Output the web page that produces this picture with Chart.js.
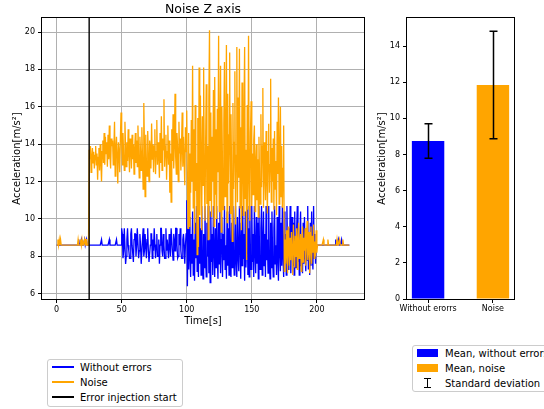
<!DOCTYPE html>
<html lang="en">
<head>
<meta charset="UTF-8">
<title>Noise Z axis</title>
<script src="https://cdn.jsdelivr.net/npm/chart.js"></script>
<style>
  body { margin: 0; background: #fff; font-family: 'DejaVu Sans', sans-serif; }
  #wrap { position: relative; width: 544px; height: 409px; overflow: hidden; }
  #wrap canvas { position: absolute; top: 0; }
  #lineChart { left: 0; }
  #barChart { left: 370px; }
  .legend { position: absolute; border: 1px solid #cccccc; border-radius: 3px; background: rgba(255,255,255,0.8); font-size: 10px; color: #000; white-space: nowrap; }
  .legend .key, .legend .txt { position: absolute; }
  .legend .txt { line-height: 15px; height: 15px; }
</style>
</head>
<body>
<div id="wrap">
  <canvas id="lineChart" width="370" height="330"></canvas>
  <canvas id="barChart" width="174" height="330"></canvas>
  <div class="legend" id="lineLegend" style="left:47px; top:359px; width:134px; height:46px;"></div>
  <div class="legend" id="barLegend" style="left:412px; top:345px; width:160px; height:45px;"></div>
</div>

<script>
// sample spacing of the recordings (s)
const sampleStep = 0.5;
const injectionStart = 25;
const timeTicks = [0, 50, 100, 150, 200];
const accelTicks = [6, 8, 10, 12, 14, 16, 18, 20];
const meanTicks = [0, 2, 4, 6, 8, 10, 12, 14];

// acceleration without errors, one value every 0.5 s from t = 0
const withoutErrors = [
  8.6, 8.6, 8.6, 8.6, 8.6, 8.6, 8.6, 8.6, 8.6, 8.6,
  8.6, 8.6, 8.6, 8.6, 8.6, 8.6, 8.6, 8.6, 8.6, 8.6,
  8.6, 8.6, 8.6, 8.6, 8.6, 8.6, 8.6, 8.6, 8.6, 8.6,
  8.6, 8.6, 8.6, 8.6, 8.9, 8.6, 8.6, 8.6, 8.9, 8.6,
  8.6, 8.6, 8.6, 8.9, 8.6, 8.6, 8.9, 8.6, 8.6, 8.6,
  8.6, 8.6, 8.6, 8.6, 8.6, 8.6, 8.6, 8.6, 8.6, 8.6,
  8.6, 8.6, 8.6, 8.6, 8.6, 8.6, 8.6, 8.6, 8.6, 8.9,
  8.6, 8.6, 8.6, 8.6, 8.6, 8.6, 8.6, 8.6, 8.6, 8.6,
  8.6, 8.9, 8.6, 8.6, 8.6, 8.6, 8.6, 8.6, 8.6, 8.6,
  8.6, 8.6, 8.9, 8.6, 8.6, 8.6, 8.6, 8.6, 8.6, 8.6,
  9.5, 9.2, 7.9, 8.3, 9.5, 9.5, 7.6, 8.0, 8.9, 9.5,
  8.6, 8.3, 7.9, 7.9, 9.2, 9.5, 8.6, 8.6, 7.7, 8.9,
  9.2, 9.2, 8.0, 8.6, 9.5, 9.5, 7.9, 8.3, 9.2, 8.6,
  7.6, 7.6, 8.9, 9.5, 8.0, 8.3, 9.2, 9.2, 7.9, 8.9,
  9.5, 8.3, 7.7, 7.7, 8.6, 9.2, 9.2, 7.9, 8.9, 8.3,
  9.5, 9.5, 7.9, 8.6, 9.2, 8.0, 8.0, 8.9, 7.6, 8.6,
  9.5, 9.5, 8.3, 8.0, 9.2, 8.6, 7.9, 7.9, 9.5, 8.3,
  8.9, 8.9, 7.9, 9.2, 8.6, 8.0, 9.5, 9.5, 8.3, 7.8,
  9.2, 8.9, 8.3, 9.5, 9.5, 8.6, 7.9, 8.0, 9.2, 8.6,
  9.5, 8.3, 7.9, 7.9, 8.9, 9.2, 8.6, 7.6, 8.6, 9.2,
  11.0, 6.4, 9.5, 7.3, 10.1, 8.0, 6.9, 9.2, 7.6, 10.4,
  7.0, 8.9, 6.7, 9.8, 7.9, 10.7, 7.2, 8.6, 6.9, 10.1,
  7.6, 9.5, 7.0, 10.7, 8.3, 6.8, 9.2, 7.4, 10.7, 7.9,
  6.9, 9.8, 8.0, 10.7, 7.1, 8.9, 6.6, 10.4, 7.7, 9.2,
  7.0, 10.7, 8.3, 6.9, 9.5, 7.4, 10.7, 8.0, 6.8, 9.8,
  7.6, 10.7, 7.1, 8.9, 10.1, 6.9, 9.2, 7.8, 10.7, 7.3,
  8.6, 6.8, 10.4, 7.5, 9.5, 7.0, 10.7, 8.0, 6.9, 9.8,
  7.4, 10.7, 8.3, 7.0, 9.2, 10.7, 7.6, 6.9, 10.1, 8.0,
  7.2, 10.7, 8.6, 6.8, 9.8, 7.5, 10.7, 7.9, 9.2, 6.7,
  10.4, 7.4, 8.9, 10.7, 7.0, 9.5, 6.9, 10.7, 8.0, 7.3,
  10.7, 7.7, 9.2, 6.9, 10.7, 8.3, 7.1, 10.1, 7.6, 9.8,
  6.8, 10.7, 8.0, 7.3, 9.5, 10.7, 7.0, 8.6, 10.4, 7.5,
  9.2, 6.9, 10.7, 7.8, 8.9, 7.1, 10.7, 8.3, 6.8, 9.8,
  7.4, 10.4, 8.0, 6.9, 9.5, 10.7, 7.6, 8.6, 7.0, 10.1,
  7.9, 6.7, 10.7, 8.3, 7.2, 9.8, 7.5, 10.7, 8.0, 6.9,
  10.4, 7.6, 9.2, 7.0, 10.7, 8.3, 7.3, 9.5, 7.8, 10.7,
  7.1, 8.9, 10.1, 7.5, 9.8, 7.0, 10.4, 8.0, 7.4, 9.5,
  10.7, 7.7, 8.6, 7.0, 9.2, 10.4, 7.5, 8.3, 7.1, 9.8,
  7.6, 10.1, 8.0, 7.2, 9.5, 7.8, 10.7, 7.3, 8.9, 7.0,
  9.8, 7.5, 10.4, 8.0, 7.3, 10.7, 7.9, 9.2, 7.6, 8.6,
  8.6, 8.6, 8.6, 8.6, 8.6, 8.6, 8.6, 8.6, 8.6, 8.6,
  8.6, 8.6, 8.6, 8.6, 8.6, 8.6, 8.6, 8.6, 8.6, 8.6,
  8.6, 8.6, 8.6, 8.6, 8.6, 8.6, 8.6, 8.6, 8.6, 8.9,
  8.6, 8.6, 8.6, 8.9, 8.6, 8.6, 8.6, 8.6, 8.9, 8.6,
  8.6, 8.6, 8.6, 8.6, 8.6, 8.6, 8.6, 8.6, 8.6, 8.6,
  8.6
];

// acceleration with noise injected from t = 25 s
const noise = [
  8.6, 8.6, 8.9, 8.6, 8.9, 8.6, 8.9, 8.6, 8.6, 8.6,
  8.6, 8.6, 8.6, 8.6, 8.6, 8.6, 8.6, 8.6, 8.6, 8.6,
  8.6, 8.6, 8.6, 8.6, 8.6, 8.6, 8.6, 8.6, 8.6, 8.6,
  8.6, 8.6, 8.6, 8.9, 8.6, 8.6, 8.6, 8.9, 8.6, 8.9,
  8.6, 8.6, 8.6, 8.9, 8.6, 8.9, 8.9, 8.6, 8.6, 8.6,
  13.7, 13.2, 13.9, 12.5, 13.3, 13.8, 13.0, 13.6, 12.7, 13.4,
  13.9, 12.9, 13.5, 12.1, 13.3, 13.8, 12.6, 14.0, 13.1, 12.0,
  13.6, 14.2, 13.0, 14.6, 12.9, 14.4, 13.5, 14.1, 12.8, 14.5,
  13.2, 15.0, 13.4, 12.7, 14.3, 13.9, 14.2, 12.9, 13.8, 15.2,
  12.3, 13.7, 14.4, 13.3, 11.9, 14.1, 13.6, 12.5, 14.3, 15.7,
  14.2, 12.9, 14.6, 13.4, 12.6, 15.2, 13.8, 12.8, 14.1, 13.1,
  14.8, 13.5, 12.5, 14.3, 13.9, 12.7, 14.5, 13.2, 14.0, 12.4,
  13.7, 14.6, 13.0, 14.2, 12.8, 15.0, 13.4, 12.2, 14.4, 13.6,
  12.6, 14.9, 13.3, 11.6, 16.2, 13.9, 11.2, 14.5, 13.1, 12.3,
  14.7, 13.5, 12.0, 14.2, 13.8, 12.7, 15.1, 13.2, 14.0, 12.5,
  13.9, 14.8, 12.4, 13.6, 15.3, 12.9, 14.1, 13.4, 12.2, 14.6,
  13.0, 15.5, 12.6, 14.3, 13.7, 16.4, 12.8, 13.9, 14.5, 12.1,
  13.6, 15.0, 12.9, 14.2, 11.4, 13.5, 10.9, 14.8, 13.1, 15.6,
  12.7, 14.0, 16.7, 13.3, 12.4, 14.6, 13.8, 12.0, 15.2, 13.5,
  14.3, 12.6, 13.9, 15.7, 12.8, 14.4, 13.2, 11.8, 14.9, 13.6,
  15.8, 12.2, 9.5, 14.6, 9.6, 13.5, 11.4, 15.3, 12.0, 18.2,
  10.6, 14.8, 9.2, 16.1, 11.5, 13.0, 8.1, 15.4, 8.5, 18.1,
  10.2, 16.6, 13.3, 9.4, 15.5, 11.8, 18.1, 12.6, 9.9, 14.0,
  17.2, 10.8, 13.9, 8.9, 16.4, 20.1, 11.0, 15.7, 10.1, 14.4,
  12.0, 16.9, 9.6, 17.6, 11.3, 14.8, 10.0, 15.9, 12.5, 19.8,
  10.4, 14.2, 18.2, 9.3, 16.0, 12.7, 10.5, 15.1, 18.4, 11.2,
  13.8, 19.3, 9.8, 16.7, 11.9, 14.5, 18.9, 10.3, 15.6, 12.4,
  8.8, 16.2, 11.6, 14.1, 17.9, 9.7, 13.4, 19.2, 10.9, 16.5,
  12.2, 19.1, 10.6, 14.9, 9.4, 17.3, 12.8, 10.2, 15.8, 19.2,
  11.1, 13.7, 7.8, 16.1, 10.5, 19.8, 12.3, 9.9, 14.6, 16.3,
  10.7, 13.5, 11.3, 14.2, 15.0, 10.4, 12.9, 14.0, 11.0, 13.2,
  10.1, 14.4, 12.1, 10.8, 15.6, 11.7, 13.9, 17.0, 10.6, 14.1,
  12.6, 11.0, 14.7, 12.2, 10.3, 13.6, 15.1, 11.4, 12.9, 17.5,
  10.9, 13.8, 12.0, 14.3, 10.5, 14.7, 11.6, 13.1, 10.2, 15.2,
  12.4, 16.5, 10.8, 13.3, 16.0, 11.2, 13.9, 10.6, 12.7, 15.0,
  7.2, 8.9, 7.6, 9.4, 8.1, 7.1, 9.6, 8.4, 7.5, 9.0,
  7.8, 9.3, 8.2, 7.0, 9.7, 8.6, 7.4, 9.1, 8.0, 9.5,
  7.3, 8.7, 9.8, 7.9, 8.5, 9.2, 7.2, 8.8, 9.6, 7.7,
  9.0, 8.3, 9.5, 7.5, 8.9, 9.9, 7.8, 8.4, 9.3, 7.1,
  8.7, 9.6, 7.6, 9.1, 8.2, 9.7, 7.9, 8.8, 8.0, 9.4,
  8.2, 8.6, 8.6, 8.6, 8.6, 8.6, 8.6, 8.6, 8.6, 8.6,
  8.9, 8.6, 8.6, 8.6, 8.6, 8.6, 8.6, 8.9, 8.6, 8.6,
  8.6, 8.6, 8.6, 8.6, 8.6, 8.6, 8.6, 8.6, 8.6, 8.6,
  8.6, 8.9, 8.6, 8.6, 8.6, 8.9, 8.6, 8.6, 8.6, 8.6,
  8.9, 8.6, 8.6, 8.6, 8.6, 8.6, 8.6, 8.6, 8.6, 8.6,
  8.6
];

// bar chart: mean and standard deviation
const barLabels = ['Without erorrs', 'Noise'];
const barPos = [0, 1];
const barMeans = [8.75, 11.85];
const barStd = [0.95, 2.97];

const lineColors = { without: '#0000ff', noise: '#ffa500', start: '#000000' };
const lineLabels = ['Without errors', 'Noise', 'Error injection start'];
const barLegendLabels = ['Mean, without errors', 'Mean, noise', 'Standard deviation'];

Chart.defaults.font.family = "'DejaVu Sans', sans-serif";
Chart.defaults.color = '#000';

const time = withoutErrors.map((v, i) => i * sampleStep);
const toPoints = arr => arr.map((v, i) => ({ x: time[i], y: v }));
const setTicks = list => s => { s.ticks = list.map(v => ({ value: v })); };

const yMin = 5.72, yMax = 20.75;

// black box round the plot area, like the axes spines
const frame = {
  id: 'frame',
  afterDatasetsDraw(chart) {
    const { ctx, chartArea: a } = chart;
    ctx.save();
    ctx.strokeStyle = '#000';
    ctx.lineWidth = 1;
    ctx.strokeRect(a.left - 0.5, a.top - 0.5, a.right - a.left + 1, a.bottom - a.top + 1);
    ctx.restore();
  }
};

// error bars drawn from mean +- std
const errorBars = {
  id: 'errorBars',
  afterDatasetsDraw(chart) {
    const { ctx, scales: { x, y } } = chart;
    ctx.save();
    ctx.strokeStyle = '#000';
    ctx.lineWidth = 1.5;
    barMeans.forEach((m, i) => {
      const px = Math.round(x.getPixelForValue(barPos[i])) + 0.5;
      const top = y.getPixelForValue(m + barStd[i]);
      const bot = y.getPixelForValue(m - barStd[i]);
      ctx.beginPath();
      ctx.moveTo(px, top); ctx.lineTo(px, bot);
      ctx.moveTo(px - 4, top); ctx.lineTo(px + 4, top);
      ctx.moveTo(px - 4, bot); ctx.lineTo(px + 4, bot);
      ctx.stroke();
    });
    ctx.restore();
  }
};

new Chart(document.getElementById('lineChart'), {
  type: 'line',
  data: {
    datasets: [
      { label: lineLabels[0], data: toPoints(withoutErrors), borderColor: lineColors.without, borderWidth: 1.3, pointRadius: 0, order: 2 },
      { label: lineLabels[1], data: toPoints(noise), borderColor: lineColors.noise, borderWidth: 1.3, pointRadius: 0, order: 1 },
      { label: lineLabels[2], data: [{ x: injectionStart, y: yMin }, { x: injectionStart, y: yMax }], borderColor: lineColors.start, borderWidth: 1.4, pointRadius: 0, order: 0 }
    ]
  },
  options: {
    responsive: false,
    animation: false,
    layout: { padding: { right: 6 } },
    plugins: {
      legend: { display: false },
      tooltip: { enabled: false },
      title: { display: true, text: 'Noise Z axis', fullSize: false, font: { size: 12.5, weight: 'normal' }, padding: { top: 2, bottom: 1 } }
    },
    scales: {
      x: {
        type: 'linear', min: -11.25, max: 236.25,
        afterFit: s => { s.height = 31; },
        afterBuildTicks: setTicks(timeTicks),
        ticks: { font: { size: 8 }, padding: 2, maxRotation: 0 },
        grid: { color: '#b0b0b0', tickColor: '#000', tickLength: 4 },
        border: { display: false },
        title: { display: true, text: 'Time[s]', font: { size: 10 }, padding: { top: 0, bottom: 3 } }
      },
      y: {
        min: yMin, max: yMax,
        afterFit: s => { s.width = 42; },
        afterBuildTicks: setTicks(accelTicks),
        ticks: { font: { size: 8 }, padding: 3 },
        grid: { color: '#b0b0b0', tickColor: '#000', tickLength: 4 },
        border: { display: false },
        title: { display: true, text: 'Acceleration[m/s²]', font: { size: 10 }, padding: { top: 11, bottom: 0 } }
      }
    }
  },
  plugins: [frame]
});

new Chart(document.getElementById('barChart'), {
  type: 'bar',
  data: {
    datasets: [{
      label: 'Mean',
      data: barPos.map((p, i) => ({ x: p, y: barMeans[i] })),
      backgroundColor: [lineColors.without, lineColors.noise],
      categoryPercentage: 0.5,
      barPercentage: 1
    }]
  },
  options: {
    responsive: false,
    animation: false,
    layout: { padding: { top: 18, right: 30 } },
    plugins: { legend: { display: false }, tooltip: { enabled: false } },
    scales: {
      x: {
        type: 'linear', min: -0.325, max: 1.325, offset: false,
        afterFit: s => { s.height = 31; },
        afterBuildTicks: setTicks(barPos),
        ticks: { font: { size: 8 }, padding: 1, maxRotation: 0, autoSkip: false,
                 callback: v => barLabels[barPos.indexOf(v)] ?? '' },
        grid: { drawOnChartArea: false, offset: false, tickColor: '#000', tickLength: 4 },
        border: { display: false }
      },
      y: {
        min: 0, max: 15.56,
        afterFit: s => { s.width = 37; },
        afterBuildTicks: setTicks(meanTicks),
        ticks: { font: { size: 8 }, padding: 3 },
        grid: { drawOnChartArea: false, tickColor: '#000', tickLength: 4 },
        border: { display: false },
        title: { display: true, text: 'Acceleration[m/s²]', font: { size: 10 }, padding: { top: 6.5, bottom: 0 } }
      }
    }
  },
  plugins: [frame, errorBars]
});

// legends below each plot
function addRow(box, center, keyHtml, text) {
  box.insertAdjacentHTML('beforeend', keyHtml);
  const t = document.createElement('div');
  t.className = 'txt';
  t.style.left = '32px';
  t.style.top = (center - 7.5) + 'px';
  t.textContent = text;
  box.appendChild(t);
}

const lineLegend = document.getElementById('lineLegend');
[lineColors.without, lineColors.noise, lineColors.start].forEach((c, i) => {
  const center = 7 + i * 15;
  addRow(lineLegend, center,
    `<div class="key" style="left:4px; width:22px; height:1.5px; top:${center - 0.75}px; background:${c}"></div>`,
    lineLabels[i]);
});

const barLegend = document.getElementById('barLegend');
[lineColors.without, lineColors.noise].forEach((c, i) => {
  const center = 7 + i * 15;
  addRow(barLegend, center,
    `<div class="key" style="left:4px; width:21px; height:8px; top:${center - 4}px; background:${c}"></div>`,
    barLegendLabels[i]);
});
{
  const center = 37;
  const key =
    `<div class="key" style="left:14px; width:1px; height:10px; top:${center - 5}px; background:#000"></div>` +
    `<div class="key" style="left:11px; width:7px; height:1px; top:${center - 5}px; background:#000"></div>` +
    `<div class="key" style="left:11px; width:7px; height:1px; top:${center + 4}px; background:#000"></div>`;
  addRow(barLegend, center, key, barLegendLabels[2]);
}
</script>
</body>
</html>
